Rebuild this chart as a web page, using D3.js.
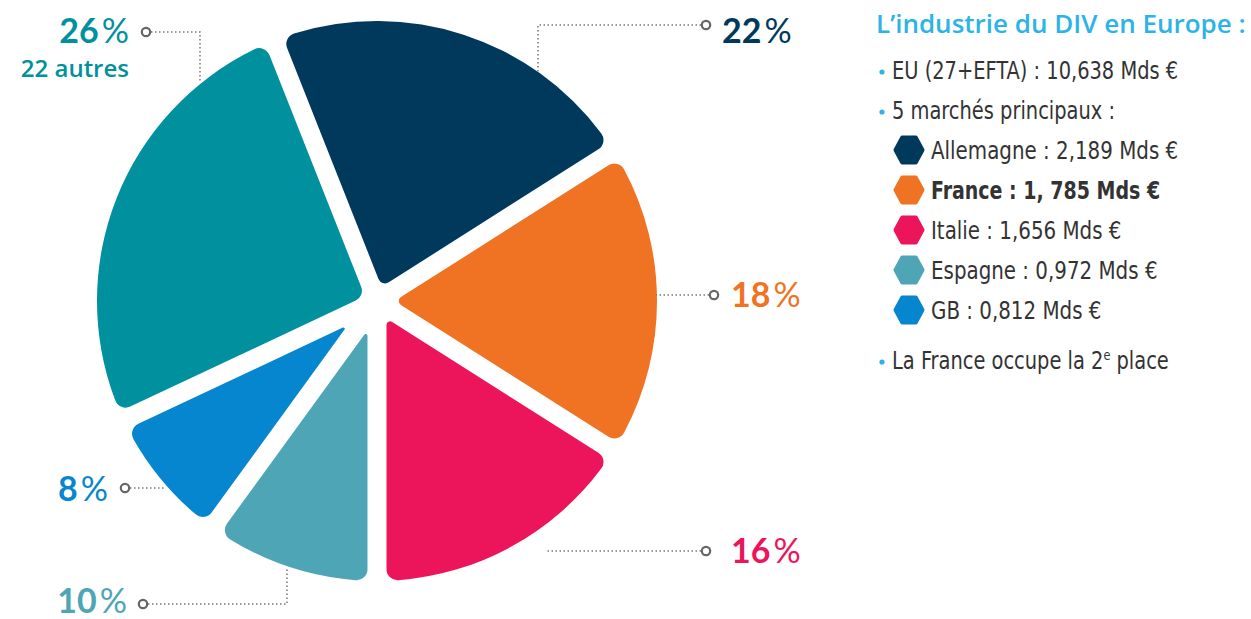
<!DOCTYPE html>
<html>
<head>
<meta charset="utf-8">
<script src="https://cdn.jsdelivr.net/npm/d3@7"></script>
<style>
  body { margin: 0; background: #fff; }
  svg { display: block; }
</style>
</head>
<body>
<svg id="svg1" width="1251" height="619"></svg>
<script>
// chart values
var categories = ["Allemagne", "France", "Italie", "Espagne", "GB", "22 autres"];
var shares = [22, 18, 16, 10, 8, 26];
var colors = ["#00395c", "#f07323", "#ec145b", "#4ea5b6", "#0686cf", "#00909e"];
var marketValues = ["2,189", "1, 785", "1,656", "0,972", "0,812"];
var euTotal = "10,638";

var svg = d3.select("#svg1"),
    cx = 377, cy = 301, R = 280,
    gap = 9.5; // half of the white gap between slices

var g = svg.append("g").attr("transform", "translate(" + cx + "," + cy + ")");

var start = -21.6 * Math.PI / 180;
var pie = d3.pie().sort(null).value(function(d) { return d; })
    .startAngle(start).endAngle(start + 2 * Math.PI);

// inner radius = where the two padded edges meet, so the gaps stay parallel
var arc = d3.arc()
    .outerRadius(R)
    .innerRadius(function(d) { return gap / Math.sin((d.endAngle - d.startAngle) / 2) + 4; })
    .padRadius(R)
    .padAngle(2 * Math.asin(gap / R))
    .cornerRadius(11);

var arcs = pie(shares);

g.selectAll(".slice")
    .data(arcs)
  .enter().append("path")
    .attr("class", "slice")
    .attr("fill", function(d, i) { return colors[i]; })
    .attr("d", arc);

// leader lines + labels (positions by hand, like the original layout)
var callouts = [
  {i: 0, dot: [706, 25], path: [[538, 25], [538, 72]], lx: 722, ly: 43, anchor: "start"},
  {i: 1, dot: [714, 295], path: [[656, 295]], lx: 731, ly: 307, anchor: "start"},
  {i: 2, dot: [706, 551], path: [[545, 551]], lx: 731, ly: 563, anchor: "start"},
  {i: 3, dot: [143, 604], path: [[287, 604], [287, 568]], lx: 127, ly: 613, anchor: "end"},
  {i: 4, dot: [125, 488], path: [[166, 488]], lx: 108, ly: 501, anchor: "end"},
  {i: 5, dot: [146, 32], path: [[200, 32], [200, 82]], lx: 129, ly: 43, anchor: "end"}
];

var line = d3.line();
var ann = svg.append("g");

callouts.forEach(function(c) {
  var dir = c.path[0][0] > c.dot[0] ? 1 : -1;
  var pts = [[c.dot[0] + dir * 5, c.dot[1]]].concat(c.path);
  ann.append("path")
    .attr("d", line(pts))
    .attr("fill", "none")
    .attr("stroke", "#777")
    .attr("stroke-width", 1.5)
    .attr("stroke-dasharray", "1.5,2.5");
  ann.append("circle")
    .attr("cx", c.dot[0]).attr("cy", c.dot[1]).attr("r", 4.2)
    .attr("fill", "#fff").attr("stroke", "#666").attr("stroke-width", 2.2);
  var t = ann.append("text")
    .attr("x", c.lx).attr("y", c.ly)
    .attr("text-anchor", c.anchor)
    .attr("fill", colors[c.i])
    .style("font-family", "Lato, 'Open Sans', sans-serif")
    .style("font-size", "34px");
  t.append("tspan").style("font-weight", 700).text(shares[c.i]);
  t.append("tspan").attr("dx", 3).style("font-weight", 400).text("%");
});

ann.append("text")
  .attr("x", 129).attr("y", 77)
  .attr("text-anchor", "end")
  .attr("fill", colors[5])
  .style("font-family", "'Open Sans', sans-serif")
  .style("font-weight", 600)
  .style("font-size", "24px")
  .text(categories[5]);

// right hand text block
var leg = svg.append("g").attr("transform", "translate(876,0)");
var legFont = "'DejaVu Sans Condensed', 'Liberation Sans Narrow', sans-serif";

leg.append("text")
  .attr("x", 0).attr("y", 33)
  .attr("fill", "#2db3e6")
  .style("font-family", "'Open Sans', sans-serif")
  .style("font-weight", 600)
  .style("font-size", "26px")
  .text("L\u2019industrie du DIV en Europe :");

// condensed look: squeeze the text a little horizontally
function legText(x, y, sx) {
  return leg.append("text")
    .attr("transform", "translate(" + x + "," + y + ") scale(" + sx + ",1)")
    .attr("fill", "#333")
    .style("font-family", legFont)
    .style("font-size", "24px");
}

function bulletLine(y, txt) {
  leg.append("circle").attr("cx", 6).attr("cy", y - 7).attr("r", 2.6).attr("fill", "#2db3e6");
  return legText(16, y, 0.9).text(txt);
}

bulletLine(79, "EU (27+EFTA) : " + euTotal + " Mds \u20ac");
bulletLine(119, "5 march\u00e9s principaux :");

var hex = function(w, h) {
  return [[-w / 2, 0], [-w / 4, -h / 2], [w / 4, -h / 2], [w / 2, 0], [w / 4, h / 2], [-w / 4, h / 2]];
};

marketValues.forEach(function(v, i) {
  var y = 150 + i * 40;
  leg.append("path")
    .attr("transform", "translate(33," + y + ")")
    .attr("d", d3.line().curve(d3.curveLinearClosed)(hex(27, 25)))
    .attr("fill", colors[i])
    .attr("stroke", colors[i])
    .attr("stroke-width", 4)
    .attr("stroke-linejoin", "round");
  legText(55, y + 9, i === 1 ? 0.88 : 0.92)
    .style("font-weight", i === 1 ? 700 : 400)
    .text(categories[i] + " : " + v + " Mds \u20ac");
});

var last = bulletLine(369, "La France occupe la 2");
last.append("tspan").attr("dy", -9).style("font-size", "14px").text("e");
last.append("tspan").attr("dy", 9).text(" place");
</script>
</body>
</html>
